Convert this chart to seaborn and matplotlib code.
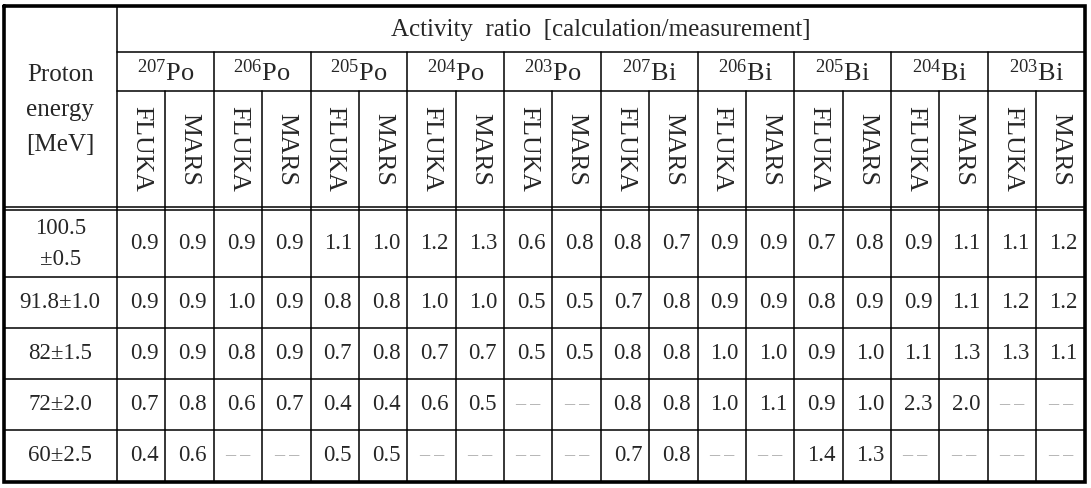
import numpy as np
import matplotlib
matplotlib.use("Agg")
import matplotlib.pyplot as plt
import seaborn as sns

# ---------------- data ----------------
title = "Activity  ratio  [calculation/measurement]"
row_header = ["Proton", "energy", "[MeV]"]
nuclides = ["207Po", "206Po", "205Po", "204Po", "203Po",
            "207Bi", "206Bi", "205Bi", "204Bi", "203Bi"]
codes = ["FLUKA", "MARS"]
energies = [["100.5", "±0.5"], ["91.8±1.0"], ["82±1.5"], ["72±2.0"], ["60±2.5"]]
# per row: FLUKA, MARS for each nuclide (None = no value)
r100 = [0.9, 0.9, 0.9, 0.9, 1.1, 1.0, 1.2, 1.3, 0.6, 0.8, 0.8, 0.7, 0.9, 0.9, 0.7, 0.8, 0.9, 1.1, 1.1, 1.2]
r92 = [0.9, 0.9, 1.0, 0.9, 0.8, 0.8, 1.0, 1.0, 0.5, 0.5, 0.7, 0.8, 0.9, 0.9, 0.8, 0.9, 0.9, 1.1, 1.2, 1.2]
r82 = [0.9, 0.9, 0.8, 0.9, 0.7, 0.8, 0.7, 0.7, 0.5, 0.5, 0.8, 0.8, 1.0, 1.0, 0.9, 1.0, 1.1, 1.3, 1.3, 1.1]
r72 = [0.7, 0.8, 0.6, 0.7, 0.4, 0.4, 0.6, 0.5, None, None, 0.8, 0.8, 1.0, 1.1, 0.9, 1.0, 2.3, 2.0, None, None]
r60 = [0.4, 0.6, None, None, 0.5, 0.5, None, None, None, None, 0.7, 0.8, None, None, 1.4, 1.3, None, None, None, None]
values = [r100, r92, r82, r72, r60]

# ---------------- style ----------------
sns.set_style("white")
plt.rcParams["font.family"] = ["Liberation Serif", "DejaVu Serif"]
plt.rcParams["mathtext.fontset"] = "custom"
plt.rcParams["mathtext.rm"] = "Liberation Serif"

W, H = 1091, 488
fig = plt.figure(figsize=(W / 100, H / 100), dpi=100)
ax = fig.add_axes([0, 0, 1, 1])
ax.set_xlim(0, W)
ax.set_ylim(H, 0)
ax.axis("off")

# layout (pixel grid)
left, right, top, bottom = 3.5, 1084.5, 5.5, 481.5
x_first = 117
n_sub = len(nuclides) * len(codes)
sub_w = (right - x_first) / n_sub
xs = [x_first + i * sub_w for i in range(n_sub + 1)]
y_act, y_nuc, y_h1, y_h2 = 52, 91, 207, 210
first_row_h = 67
row_h = (bottom - y_h2 - first_row_h) / (len(values) - 1)
ys = [y_h2, y_h2 + first_row_h] + [y_h2 + first_row_h + i * row_h for i in range(1, len(values))]

lw = 1.1
k = "black"
# horizontal lines
ax.plot([x_first, right], [y_act, y_act], color=k, lw=lw)
ax.plot([x_first, right], [y_nuc, y_nuc], color=k, lw=lw)
for yy in (y_h1, y_h2):
    ax.plot([left, right], [yy, yy], color=k, lw=lw)
for yy in ys[1:-1]:
    ax.plot([left, right], [yy, yy], color=k, lw=lw)
# vertical lines
ax.plot([x_first, x_first], [top, bottom], color=k, lw=lw)
for i in range(1, n_sub):
    y0 = y_act if i % 2 == 0 else y_nuc
    ax.plot([xs[i], xs[i]], [y0, bottom], color=k, lw=lw)
# outer border
ax.plot([left, right, right, left, left], [top, top, bottom, bottom, top],
        color=k, lw=2.6, solid_joinstyle="miter")

hfs = 18
vfs = 16.5
ax.text((x_first + right) / 2, (top + y_act) / 2 + 1, title, ha="center", va="center", fontsize=hfs)
for j, line in enumerate(row_header):
    ax.text((left + x_first) / 2, 75 + j * 35, line, ha="center", va="center", fontsize=hfs)

for n, nuc in enumerate(nuclides):
    mass, sym = nuc[:3], nuc[3:]
    cx = (xs[2 * n] + xs[2 * n + 2]) / 2
    ax.text(cx, (y_act + y_nuc) / 2 + 1, r"$\mathregular{^{%s}%s}$" % (mass, sym),
            ha="center", va="center", fontsize=hfs + 1)
    for c, code in enumerate(codes):
        sx = (xs[2 * n + c] + xs[2 * n + c + 1]) / 2
        ax.text(sx, (y_nuc + y_h1) / 2, code, ha="center", va="center",
                rotation=-90, fontsize=hfs + 0.5)

for r, (lab, row) in enumerate(zip(energies, values)):
    cy = (ys[r] + ys[r + 1]) / 2
    if len(lab) == 2:
        ax.text((left + x_first) / 2, cy - 15, lab[0], ha="center", va="center", fontsize=vfs)
        ax.text((left + x_first) / 2, cy + 16, lab[1], ha="center", va="center", fontsize=vfs)
    else:
        ax.text((left + x_first) / 2, cy, lab[0], ha="center", va="center", fontsize=vfs)
    for i, v in enumerate(row):
        sx = (xs[i] + xs[i + 1]) / 2
        if v is None:
            ax.text(sx, cy, "– –", ha="center", va="center", fontsize=vfs - 2, color="#a8a8a8")
        else:
            ax.text(sx + 3, cy, f"{v:.1f}", ha="center", va="center", fontsize=vfs)

fig.savefig("out.png", dpi=100)
